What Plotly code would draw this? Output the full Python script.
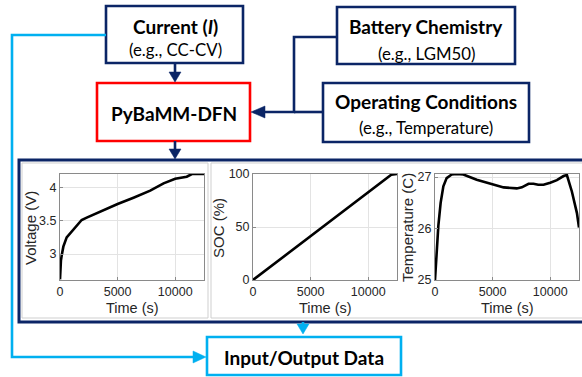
import plotly.graph_objects as go

# ---------------- data ----------------
time_v = [0, 30, 80, 150, 290, 580, 1000, 1450, 1880, 2320, 3190, 4060, 5000,
          6380, 7830, 8990, 10000, 11000, 11450, 12500]
voltage = [2.62, 2.78, 2.9, 2.98, 3.11, 3.25, 3.335, 3.42, 3.51, 3.545, 3.61,
           3.685, 3.75, 3.845, 3.95, 4.06, 4.13, 4.16, 4.2, 4.2]

time_s = [0, 2000, 5000, 8000, 10000, 11500, 12000, 12500]
soc = [0, 16.5, 41.5, 66.5, 83.3, 95.5, 99.3, 100]

time_t = [0, 145, 290, 490, 725, 1010, 1450, 1880, 2460, 3620, 5000, 5960, 7100,
          7540, 8120, 8550, 8960, 9420, 10000, 10580, 11160, 11450, 11880, 12320, 12500]
temperature = [25.0, 25.6, 26.05, 26.5, 26.82, 26.98, 27.05, 27.06, 27.05, 26.95,
               26.86, 26.8, 26.78, 26.8, 26.87, 26.87, 26.85, 26.85, 26.89, 26.94,
               27.02, 27.04, 26.72, 26.3, 26.02]

x_ticks = [0, 5000, 10000]
x_ticklabels = ["0", "5000", "10000"]
v_ticks = [3, 3.5, 4]
v_ticklabels = ["3", "3.5", "4"]
soc_ticks = [0, 50, 100]
soc_ticklabels = ["0", "50", "100"]
t_ticks = [25, 26, 27]
t_ticklabels = ["25", "26", "27"]

y_titles = ["Voltage (V)", "SOC (%)", "Temperature (C)"]
x_title = "Time (s)"

# ---------------- layout helpers ----------------
W, H = 582, 377
NAVY = "#0b2566"
BLUE = "#00b0f0"
RED = "#ff0000"


def X(px):
    return px / W


def Y(py):
    return 1 - py / H


fig = go.Figure()
axes_x = [(60, 204), (253, 397), (435, 579)]
ax_top, ax_bot = 174, 280
series = [(time_v, voltage, [2.61, 4.2], v_ticks, v_ticklabels),
          (time_s, soc, [0, 100], soc_ticks, soc_ticklabels),
          (time_t, temperature, [25, 27.06], t_ticks, t_ticklabels)]

layout_axes = {}
for i, ((x0, x1), (tx, ty, yr, yt, yl)) in enumerate(zip(axes_x, series), start=1):
    suf = "" if i == 1 else str(i)
    fig.add_trace(go.Scatter(x=tx, y=ty, mode="lines",
                             line=dict(color="black", width=2.6),
                             xaxis="x" + suf, yaxis="y" + suf, showlegend=False))
    common = dict(showline=True, mirror=True, linecolor="#8a8a8a", linewidth=1,
                  showgrid=True, gridcolor="#e3e3e3", gridwidth=1, zeroline=False,
                  ticks="inside", ticklen=3, tickcolor="#8a8a8a",
                  tickfont=dict(family="Liberation Sans, Arial", size=12.5, color="#262626"),
                  automargin=False, fixedrange=True)
    layout_axes["xaxis" + suf] = dict(domain=[X(x0), X(x1)], range=[0, 12500],
                                      tickvals=x_ticks, ticktext=x_ticklabels,
                                      anchor="y" + suf, **common)
    layout_axes["yaxis" + suf] = dict(domain=[Y(ax_bot), Y(ax_top)], range=yr,
                                      tickvals=yt, ticktext=yl,
                                      anchor="x" + suf, **common)

fig.update_layout(**layout_axes)

shapes = []
annotations = []


def rect(x0, y0, x1, y1, color, width):
    shapes.append(dict(type="rect", xref="paper", yref="paper",
                       x0=X(x0), x1=X(x1), y0=Y(y1), y1=Y(y0),
                       line=dict(color=color, width=width), fillcolor="rgba(0,0,0,0)",
                       layer="below"))


def polyline(pts, color, width):
    path = "M " + " L ".join(f"{X(a)},{Y(b)}" for a, b in pts)
    shapes.append(dict(type="path", xref="paper", yref="paper", path=path,
                       line=dict(color=color, width=width)))


def tri(pts, color):
    path = "M " + " L ".join(f"{X(a)},{Y(b)}" for a, b in pts) + " Z"
    shapes.append(dict(type="path", xref="paper", yref="paper", path=path,
                       line=dict(color=color, width=0.5), fillcolor=color))


def text(x, y, s, size, bold=False, angle=0, family="Lato", color="black"):
    annotations.append(dict(xref="paper", yref="paper", x=X(x), y=Y(y),
                            text=f"<b>{s}</b>" if bold else s, showarrow=False,
                            xanchor="center", yanchor="middle", textangle=angle,
                            font=dict(family=family, size=size, color=color)))


# panel frames
rect(22, 163, 208, 318, "#cfcfcf", 1)
rect(211, 163, 640, 318, "#cfcfcf", 1)
rect(19, 160, 640, 322, NAVY, 3)

# boxes
rect(106, 6, 243, 63, NAVY, 2.6)
rect(97, 83, 250, 141, RED, 2.6)
rect(337, 7, 515, 64, NAVY, 2.6)
rect(323, 83, 529, 142, NAVY, 2.6)
rect(207, 337, 401, 375, BLUE, 2.6)

# navy connectors
polyline([(175, 63), (175, 73)], NAVY, 2.6)
tri([(169, 72), (181, 72), (175, 82)], NAVY)
polyline([(175, 141), (175, 150)], NAVY, 2.6)
tri([(169, 149), (181, 149), (175, 159)], NAVY)
polyline([(337, 37), (294, 37), (294, 112), (264, 112)], NAVY, 2.6)
polyline([(294, 112), (323, 112)], NAVY, 2.6)
tri([(265, 106), (265, 118), (251, 112)], NAVY)

# light blue connectors
polyline([(106, 35), (12, 35), (12, 357), (194, 357)], BLUE, 2.6)
tri([(193, 351), (193, 363), (206, 357)], BLUE)
polyline([(303, 322), (303, 326)], BLUE, 2.6)
tri([(297, 324), (309, 324), (303, 334)], BLUE)

# box text
BOLD, REG = 19, 16.8
text(175, 26, "Current (<i>I</i>)", BOLD, bold=True)
text(175, 50, "(e.g., CC-CV)", REG)
text(174, 114, "PyBaMM-DFN", BOLD, bold=True)
text(426, 27, "Battery Chemistry", BOLD, bold=True)
text(426, 53, "(e.g., LGM50)", REG)
text(426, 101, "Operating Conditions", BOLD, bold=True)
text(426, 127, "(e.g., Temperature)", REG)
text(304, 357, "Input/Output Data", BOLD, bold=True)

# axis titles
title_x = [31, 219, 408]
for (x0, x1), tx, yt in zip(axes_x, title_x, y_titles):
    text((x0 + x1) / 2, 308, x_title, 14.5, family="Liberation Sans, Arial", color="#262626")
    text(tx, (ax_top + ax_bot) / 2 + 1, yt, 15, angle=-90,
         family="Liberation Sans, Arial", color="#262626")

fig.update_layout(width=W, height=H, margin=dict(l=0, r=0, t=0, b=0),
                  paper_bgcolor="white", plot_bgcolor="white",
                  shapes=shapes, annotations=annotations, showlegend=False)

fig.write_html("out.html", config={"displayModeBar": False},
               post_script="document.body.style.margin='0';document.body.style.overflow='hidden';")
